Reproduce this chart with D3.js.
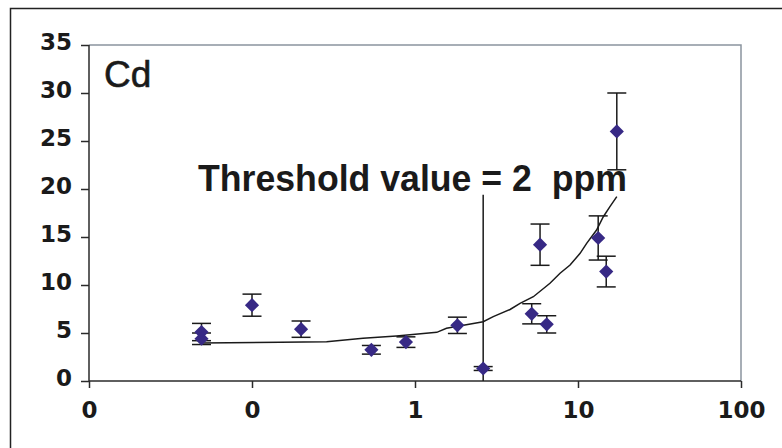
<!DOCTYPE html>
<html>
<head>
<meta charset="utf-8">
<script src="https://cdn.jsdelivr.net/npm/d3@7"></script>
<style>
  body { margin: 0; background: #fff; }
  svg { display: block; }
</style>
</head>
<body>
<div id="chart"></div>
<script>
// DATA
let concX = [0.049, 0.049, 0.1, 0.2, 0.54, 0.88, 1.82, 2.62, 5.2, 5.85, 6.43, 13.3, 14.9, 17.3]
let concY = [5.1, 4.4, 7.9, 5.4, 3.25, 4.05, 5.8, 1.3, 7.0, 14.2, 5.9, 14.9, 11.4, 26.0]
let errY = [0.9, 0.6, 1.15, 0.85, 0.45, 0.55, 0.85, 0.2, 1.05, 2.15, 0.9, 2.3, 1.6, 4.0]

let curveX = [0.049, 0.149, 0.287, 0.48, 0.77, 1.36, 1.56, 2.62, 3.02, 3.83, 4.41, 5.32, 6.73, 7.76, 8.94, 10.3, 11.3, 13.0, 14.3, 15.7, 17.3]
let curveY = [3.96, 4.03, 4.09, 4.45, 4.69, 5.07, 5.49, 6.18, 6.7, 7.45, 8.09, 8.78, 10.18, 11.22, 12.08, 13.3, 14.34, 15.73, 17.11, 18.16, 19.2]

let xTicks = [0.01, 0.1, 1, 10, 100]
let xTickLabels = ['0', '0', '1', '10', '100']
let yTicks = [0, 5, 10, 15, 20, 25, 30, 35]

let threshold = 2.62
let thresholdTop = 19.4

// CHART SETUP
let width = 782, height = 448
let margin = { top: 45, right: 41, bottom: 67, left: 89 }

let svg = d3.select('#chart')
  .append('svg')
  .attr('width', width)
  .attr('height', height)

// outer frame
svg.append('rect')
  .attr('x', 10.5).attr('y', 8.5)
  .attr('width', 790).attr('height', 460)
  .attr('fill', 'none')
  .attr('stroke', '#222')
  .attr('stroke-width', 1.5)

let x = d3.scaleLog().domain([0.01, 100]).range([margin.left, width - margin.right])
let y = d3.scaleLinear().domain([0, 35]).range([height - margin.bottom, margin.top])

// plot area border (top and right in grey)
svg.append('path')
  .attr('d', 'M' + x(0.01) + ',' + y(35) + 'H' + x(100) + 'V' + y(0))
  .attr('fill', 'none')
  .attr('stroke', '#8a949e')
  .attr('stroke-width', 1.5)

// AXES
let xAxis = d3.axisBottom(x)
  .tickValues(xTicks)
  .tickSize(7)
  .tickFormat((d, i) => xTickLabels[i])

let yAxis = d3.axisLeft(y)
  .tickValues(yTicks)
  .tickSize(8)

let gx = svg.append('g')
  .attr('transform', 'translate(0,' + y(0) + ')')
  .call(xAxis)

let gy = svg.append('g')
  .attr('transform', 'translate(' + x(0.01) + ',0)')
  .call(yAxis)

gx.select('.domain').attr('d', 'M' + x(0.01) + ',0H' + x(100))
gy.select('.domain').attr('d', 'M0,' + y(0) + 'V' + y(35))

svg.selectAll('.domain, .tick line')
  .attr('stroke', '#2a2a2a')
  .attr('stroke-width', 1.5)

svg.selectAll('.tick text')
  .attr('fill', '#1a1a1a')
  .style('font-family', 'DejaVu Sans')
  .style('font-weight', 'bold')
  .style('font-size', '23px')

gx.selectAll('.tick text').attr('y', 21)
gy.selectAll('.tick text').attr('x', -17).attr('dy', '0.2em')

// FITTED CURVE
let line = d3.line()
  .x((d, i) => x(curveX[i]))
  .y(d => y(d))

svg.append('path')
  .datum(curveY)
  .attr('d', line)
  .attr('fill', 'none')
  .attr('stroke', '#1a1a1a')
  .attr('stroke-width', 1.5)

// THRESHOLD LINE
svg.append('line')
  .attr('x1', x(threshold)).attr('x2', x(threshold))
  .attr('y1', y(0)).attr('y2', y(thresholdTop))
  .attr('stroke', '#1a1a1a')
  .attr('stroke-width', 1.5)

// ERROR BARS
let bars = svg.selectAll('.err')
  .data(concY)
  .enter().append('g').attr('class', 'err')
  .attr('stroke', '#1a1a1a')
  .attr('stroke-width', 1.5)

bars.append('line')
  .attr('x1', (d, i) => x(concX[i])).attr('x2', (d, i) => x(concX[i]))
  .attr('y1', (d, i) => y(d - errY[i])).attr('y2', (d, i) => y(d + errY[i]))

bars.append('line')
  .attr('x1', (d, i) => x(concX[i]) - 9.5).attr('x2', (d, i) => x(concX[i]) + 9.5)
  .attr('y1', (d, i) => y(d + errY[i])).attr('y2', (d, i) => y(d + errY[i]))

bars.append('line')
  .attr('x1', (d, i) => x(concX[i]) - 9.5).attr('x2', (d, i) => x(concX[i]) + 9.5)
  .attr('y1', (d, i) => y(d - errY[i])).attr('y2', (d, i) => y(d - errY[i]))

// MARKERS
let diamond = d3.symbol().type(d3.symbolDiamond2).size(128)

svg.selectAll('.pt')
  .data(concY)
  .enter().append('path')
  .attr('class', 'pt')
  .attr('d', diamond)
  .attr('transform', (d, i) => 'translate(' + x(concX[i]) + ',' + y(d) + ')')
  .attr('fill', '#372985')

// LABELS
svg.append('text')
  .attr('x', 104).attr('y', 87)
  .style('font-family', 'Liberation Sans, Arial, sans-serif')
  .style('font-size', '37px')
  .attr('fill', '#1a1a1a')
  .attr('stroke', '#1a1a1a')
  .attr('stroke-width', 0.6)
  .text('Cd')

svg.append('text')
  .attr('x', 198).attr('y', 191)
  .style('font-family', 'Liberation Sans, Arial, sans-serif')
  .style('font-weight', 'bold')
  .style('font-size', '36px')
  .attr('textLength', 429)
  .attr('lengthAdjust', 'spacingAndGlyphs')
  .attr('fill', '#1a1a1a')
  .style('white-space', 'pre')
  .text('Threshold value = 2  ppm')
</script>
</body>
</html>
